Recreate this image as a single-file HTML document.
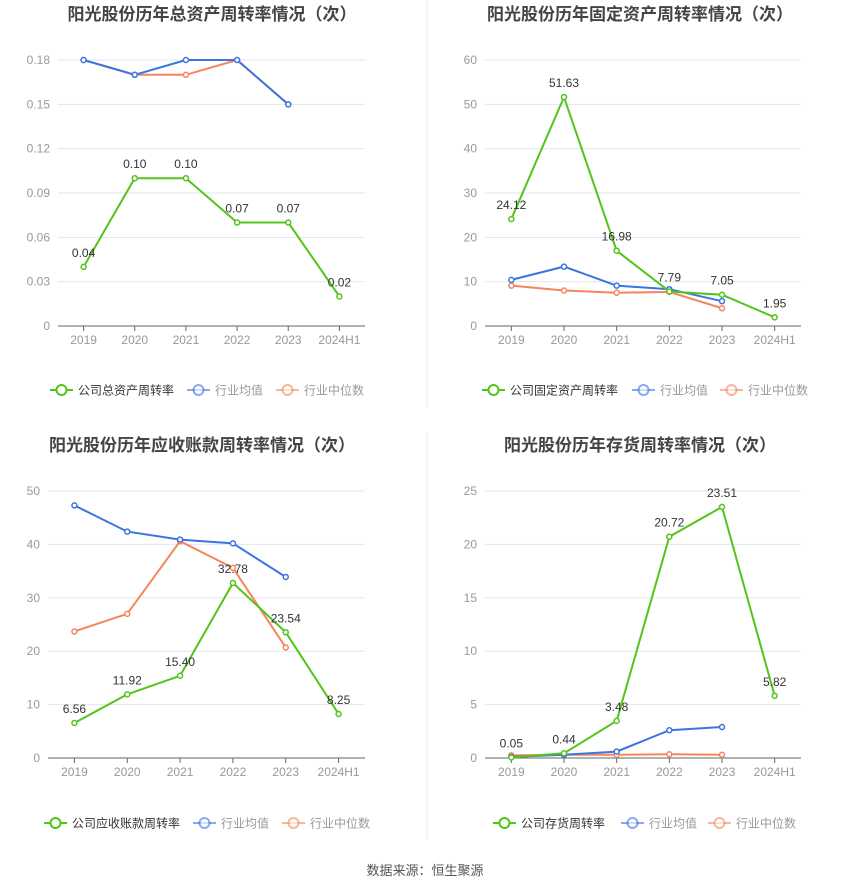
<!DOCTYPE html>
<html><head><meta charset="utf-8"><style>
body{margin:0;background:#fff;width:850px;height:891px;overflow:hidden;font-family:"Liberation Sans","Noto Sans CJK SC",sans-serif}
svg{position:absolute;left:0;top:0}
</style></head><body>
<svg id="s" width="850" height="891"></svg>
<script>
const years=["2019","2020","2021","2022","2023","2024H1"];
const c1Company=[0.04,0.10,0.10,0.07,0.07,0.02];
const c1Avg=[0.18,0.17,0.18,0.18,0.15];
const c1Median=[0.18,0.17,0.17,0.18,0.15];
const c1Ticks=["0","0.03","0.06","0.09","0.12","0.15","0.18"];
const c1Labels=["0.04","0.10","0.10","0.07","0.07","0.02"];
const c2Company=[24.12,51.63,16.98,7.79,7.05,1.95];
const c2Avg=[10.4,13.4,9.1,8.3,5.6];
const c2Median=[9.1,8.0,7.5,7.7,4.0];
const c2Ticks=["0","10","20","30","40","50","60"];
const c2Labels=["24.12","51.63","16.98","7.79","7.05","1.95"];
const c3Company=[6.56,11.92,15.40,32.78,23.54,8.25];
const c3Avg=[47.3,42.4,40.9,40.2,33.9];
const c3Median=[23.7,27.0,40.6,35.6,20.7];
const c3Ticks=["0","10","20","30","40","50"];
const c3Labels=["6.56","11.92","15.40","32.78","23.54","8.25"];
const c4Company=[0.05,0.44,3.48,20.72,23.51,5.82];
const c4Avg=[0.1,0.3,0.6,2.6,2.9];
const c4Median=[0.25,0.3,0.3,0.35,0.3];
const c4Ticks=["0","5","10","15","20","25"];
const c4Labels=["0.05","0.44","3.48","20.72","23.51","5.82"];

const S=document.getElementById('s');
function el(t,a,txt){const e=document.createElementNS('http://www.w3.org/2000/svg',t);for(const k in a)e.setAttribute(k,a[k]);if(txt!==undefined)e.textContent=txt;S.appendChild(e);return e;}
const G="#52c41a",B="#3a75e0",O="#f5865a";
function chart(p){
  const n=p.ticks.length-1,max=parseFloat(p.ticks[n]);
  const band=(p.x1-p.x0)/years.length;
  const X=i=>p.x0+band*(i+0.5), Y=v=>p.yb-(v/max)*(p.yb-p.yt);
  let t=el('text',{x:p.tx,y:p.ty,'font-size':17,'font-weight':'bold',fill:'#444','text-anchor':'middle'},p.title);
  
  p.ticks.forEach((tk,i)=>{const y=p.yb-(p.yb-p.yt)*i/n;
    if(i>0){const g=el('line',{x1:p.x0,x2:p.x1,y1:y,y2:y,stroke:'#e3e6f0','stroke-width':1});}
    const l=el('text',{x:p.x0-8,y:y+4,'font-size':12,fill:'#999','text-anchor':'end'},tk);});
  const ax=el('line',{x1:p.x0,x2:p.x1,y1:p.yb,y2:p.yb,stroke:'#666'});
  years.forEach((yr,i)=>{el('line',{x1:X(i),x2:X(i),y1:p.yb,y2:p.yb+5,stroke:'#666'});
    const l=el('text',{x:X(i),y:p.yb+18,'font-size':12,fill:'#999','text-anchor':'middle'},yr);});
  function series(arr,c,name){
    const pl=el('polyline',{points:arr.map((v,i)=>X(i)+','+Y(v)).join(' '),fill:'none',stroke:c,'stroke-width':2});
    
    arr.forEach((v,i)=>{const m=el('circle',{cx:X(i),cy:Y(v),r:2.5,fill:'#fff',stroke:c,'stroke-width':1.5});});
  }
  series(p.med,O,'industry-median');series(p.avg,B,'industry-average');series(p.co,G,'company');
  p.co.forEach((v,i)=>{const l=el('text',{x:X(i),y:Y(v)-10,'font-size':12,fill:'#333','text-anchor':'middle'},p.labels[i]);});
  const ly=p.ly;
  [[G,p.leg,p.lg[0]],[B,'行业均值',p.lg[1]],[O,'行业中位数',p.lg[2]]].forEach(([c,txt,x],k)=>{
    const op=k==0?1:0.6;
    el('line',{x1:x,x2:x+23,y1:ly,y2:ly,stroke:c,'stroke-width':2,opacity:op});
    el('circle',{cx:x+11.5,cy:ly,r:5,fill:'#fff',stroke:c,'stroke-width':2,opacity:op});
    const l=el('text',{x:x+28,y:ly+4.5,'font-size':12,fill:k==0?'#333':'#999'},txt);});
}
chart({title:'阳光股份历年总资产周转率情况（次）',tx:212,ty:20,x0:58,x1:365,yt:60,yb:326,ticks:c1Ticks,co:c1Company,avg:c1Avg,med:c1Median,labels:c1Labels,leg:'公司总资产周转率',lg:[50,187,276],ly:390});
chart({title:'阳光股份历年固定资产周转率情况（次）',tx:640,ty:20,x0:485,x1:801,yt:60,yb:326,ticks:c2Ticks,co:c2Company,avg:c2Avg,med:c2Median,labels:c2Labels,leg:'公司固定资产周转率',lg:[482,632,720],ly:390});
chart({title:'阳光股份历年应收账款周转率情况（次）',tx:202,ty:451,x0:48,x1:365,yt:491,yb:758,ticks:c3Ticks,co:c3Company,avg:c3Avg,med:c3Median,labels:c3Labels,leg:'公司应收账款周转率',lg:[44,193,282],ly:823});
chart({title:'阳光股份历年存货周转率情况（次）',tx:640,ty:451,x0:485,x1:801,yt:491,yb:758,ticks:c4Ticks,co:c4Company,avg:c4Avg,med:c4Median,labels:c4Labels,leg:'公司存货周转率',lg:[493,621,708],ly:823});
el('line',{x1:427,x2:427,y1:0,y2:408,stroke:'#eee'});
el('line',{x1:427,x2:427,y1:432,y2:840,stroke:'#eee'});
const src=el('text',{x:425,y:875,'font-size':13,fill:'#555','text-anchor':'middle'},'数据来源：恒生聚源');

</script>
</body></html>
